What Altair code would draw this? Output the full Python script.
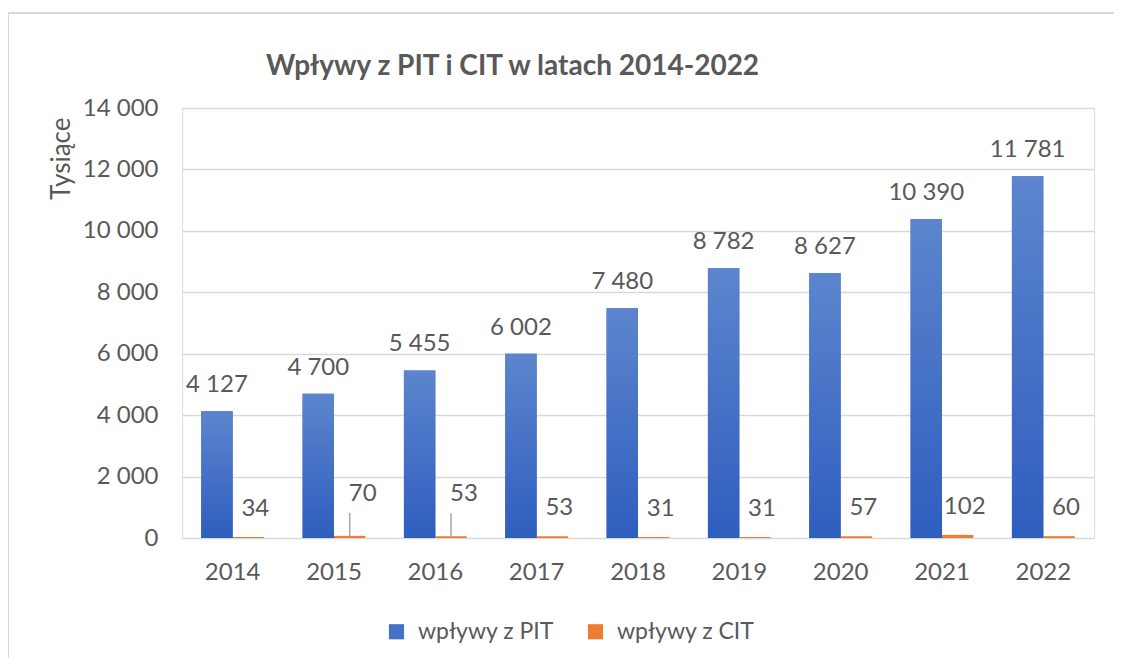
import altair as alt
import pandas as pd

years = ["2014", "2015", "2016", "2017", "2018", "2019", "2020", "2021", "2022"]
pit = [4127, 4700, 5455, 6002, 7480, 8782, 8627, 10390, 11781]
cit = [34, 70, 53, 53, 31, 31, 57, 102, 60]
series = ["wpływy z PIT", "wpływy z CIT"]
y_ticks = [0, 2000, 4000, 6000, 8000, 10000, 12000, 14000]
raised_cit_years = ["2015", "2016"]

def fmt(v):
    return f"{v:,}".replace(",", " ")

rows = []
for yr, p, c in zip(years, pit, cit):
    rows.append({"year": yr, "series": series[0], "value": p, "label": fmt(p),
                 "raised": False})
    rows.append({"year": yr, "series": series[1], "value": c, "label": fmt(c),
                 "raised": yr in raised_cit_years})
df = pd.DataFrame(rows)

FONT = "Lato"
GREY = "#595959"
BLUE = "#4472C4"
ORANGE = "#ED7D31"
FS = 24

gradient = {
    "gradient": "linear",
    "x1": 0, "y1": 0, "x2": 0, "y2": 1,
    "stops": [
        {"offset": 0, "color": "#5D85CE"},
        {"offset": 1, "color": "#2E5EBE"},
    ],
}

x_enc = alt.X(
    "year:N",
    sort=years,
    scale=alt.Scale(paddingInner=0.38, paddingOuter=0.19),
    axis=alt.Axis(
        title=None, labelAngle=0, domain=False, ticks=False,
        labelFontSize=FS, labelColor=GREY, labelPadding=22, labelFont=FONT,
    ),
)
xo_enc = alt.XOffset("series:N", scale=alt.Scale(domain=series, paddingInner=0, paddingOuter=0))
y_enc = alt.Y(
    "value:Q",
    scale=alt.Scale(domain=[0, 14000], nice=False),
    axis=alt.Axis(
        values=y_ticks, domain=False, ticks=False, grid=True,
        gridColor="#D9D9D9", gridWidth=1.3,
        labelFontSize=FS, labelColor=GREY, labelPadding=24, labelFont=FONT,
        labelExpr="replace(format(datum.value, ','), ',', ' ')",
        title="Tysiące", titleFontSize=26, titleFontWeight="normal",
        titleColor=GREY, titleFont=FONT, titleAnchor="end", titlePadding=8,
        titleY=9,
    ),
)

base = alt.Chart(df)

frame = alt.Chart(pd.DataFrame({"a": [0]})).mark_rect(
    fill="white", fillOpacity=0, stroke="#D9D9D9", strokeWidth=2
).encode(
    x=alt.value(-174), x2=alt.value(960), y=alt.value(-95), y2=alt.value(580)
)

bars = base.mark_bar().encode(
    x=x_enc,
    xOffset=xo_enc,
    y=y_enc,
    color=alt.Color(
        "series:N",
        scale=alt.Scale(domain=series, range=[BLUE, ORANGE]),
        legend=alt.Legend(
            title=None, orient="none", direction="horizontal",
            legendX=203, legendY=512,
            symbolType="square", symbolSize=230, symbolStrokeWidth=0,
            labelFontSize=23, labelColor=GREY, labelFont=FONT,
            labelOffset=10, columnPadding=30,
        ),
    ),
)

is_pit = f"datum.series == '{series[0]}'"
is_cit_normal = f"datum.series == '{series[1]}' && !datum.raised"
is_cit_raised = f"datum.series == '{series[1]}' && datum.raised"

pit_grad = base.transform_filter(is_pit).mark_bar(color=gradient).encode(
    x=x_enc, xOffset=xo_enc, y=y_enc
)

pit_labels = base.transform_filter(is_pit).mark_text(
    dy=-26, baseline="middle", fontSize=FS, color=GREY, font=FONT
).encode(x=x_enc, xOffset=xo_enc, y=y_enc, text="label:N")

cit_labels = base.transform_filter(is_cit_normal).mark_text(
    dy=-28, dx=7, baseline="middle", fontSize=FS, color=GREY, font=FONT
).encode(x=x_enc, xOffset=xo_enc, y=y_enc, text="label:N")

cit_labels_raised = base.transform_filter(is_cit_raised).mark_text(
    dy=-42, dx=13, baseline="middle", fontSize=FS, color=GREY, font=FONT
).encode(x=x_enc, xOffset=xo_enc, y=y_enc, text="label:N")

leaders = base.transform_filter(is_cit_raised).mark_rule(
    color="#A6A6A6", strokeWidth=1.5, xOffset=8, y2Offset=-23
).encode(x=x_enc, xOffset=xo_enc, y=y_enc, y2=alt.Y2("value:Q"))

chart = alt.layer(
    frame, bars, pit_grad, pit_labels, cit_labels, cit_labels_raised, leaders
).properties(
    width=912,
    height=430,
    padding={"left": 174, "top": 100, "right": 20, "bottom": 120},
    autosize=alt.AutoSizeParams(type="none"),
    title=alt.TitleParams(
        "Wpływy z PIT i CIT w latach 2014-2022",
        anchor="start", dx=259, offset=-69,
        fontSize=28, font=FONT, fontWeight="bold", color=GREY,
    ),
).configure_view(strokeWidth=0).configure(font=FONT)

chart.save("out.html", embed_options={"renderer": "svg", "actions": False})
